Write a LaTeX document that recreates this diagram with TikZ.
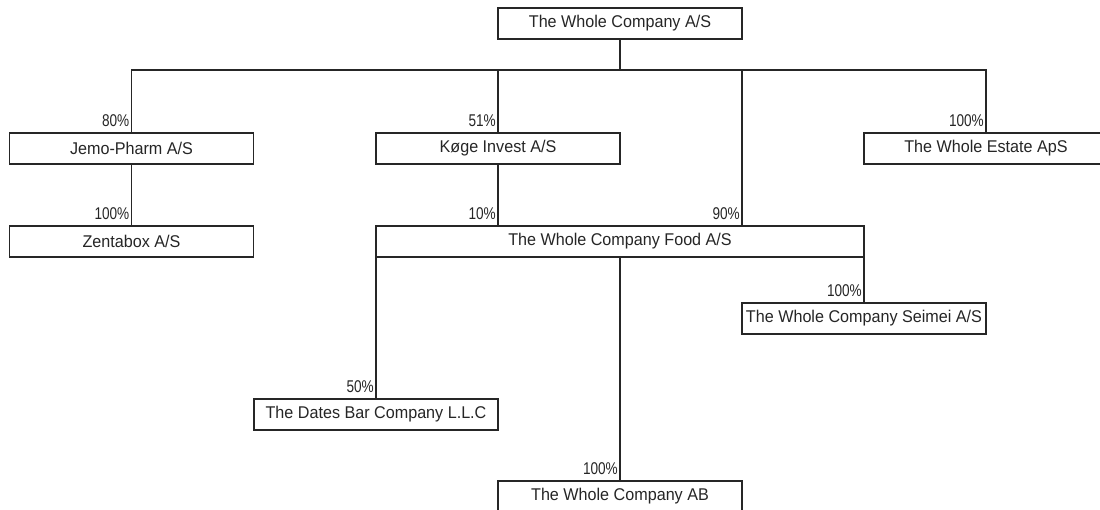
\documentclass[tikz,border=0pt]{standalone}
\usepackage{fontspec}
\setmainfont{Liberation Sans}
\newfontfamily\boxfont[FakeStretch=0.95]{Liberation Sans}
\newfontfamily\pctfont[FakeStretch=0.8]{Liberation Sans}
\usetikzlibrary{calc}
\definecolor{ink}{HTML}{262626}
\tikzset{
  company/.style={draw=ink, line width=1.4pt, anchor=north west, inner sep=0pt, outer sep=0pt,
    minimum height=31pt, text=ink, font=\boxfont\fontsize{17}{19}\selectfont},
  single/.style={company, minimum width=244pt},
  double/.style={company, minimum width=488pt},
  pct/.style={anchor=base east, inner sep=0pt, text=ink, font=\pctfont\fontsize{17}{19}\selectfont},
  link/.style={draw=ink, line width=1.1pt}
}
\begin{document}
\begin{tikzpicture}[x=1pt,y=1pt]
\useasboundingbox (0,0) rectangle (1100,-509);
\fill[white] (0,0) rectangle (1100,-509);
\clip (0,0) rectangle (1100,-509);
% boxes
\node[single] (top)    at (498,-8)   {The Whole Company A/S};
\node[single] (jemo)   at (9.5,-133) {Jemo-Pharm A/S};
\node[single] (koge)   at (376,-133) {Køge Invest A/S};
\node[single] (estate) at (864,-133) {The Whole Estate ApS};
\node[single] (zenta)  at (9.5,-226) {Zentabox A/S};
\node[double] (food)   at (376,-226) {The Whole Company Food A/S};
\node[single] (seimei) at (742,-303) {The Whole Company Seimei A/S};
\node[single] (dates)  at (254,-399) {The Dates Bar Company L.L.C};
\node[single] (ab)     at (498,-481) {The Whole Company AB};
% bus
\coordinate (bus) at (0,-70);
\coordinate (food90) at ($(food.north west)!0.75!(food.north east)$);
\draw[link] (top.south) -- (top.south |- bus);
\draw[link] (jemo.north) -- (jemo.north |- bus) -- (estate.north |- bus) -- (estate.north);
\draw[link] (koge.north) -- (koge.north |- bus);
\draw[link] (food90) -- (food90 |- bus);
\draw[link] (jemo.south) -- (zenta.north);
\draw[link] (koge.south) -- (koge.south |- food.north);
\draw[link] (food.south west) -- (dates.north);
\draw[link] (food.south) -- (ab.north);
\draw[link] (food.south east) -- (seimei.north);
% percentages
\node[pct] (p1) at ([xshift=-2pt,yshift=7pt]jemo.north) {80\%};
\node[pct] (p2) at ([xshift=-2pt,yshift=7pt]koge.north) {51\%};
\node[pct] (p3) at ([xshift=-2pt,yshift=7pt]estate.north) {100\%};
\node[pct] (p4) at ([xshift=-2pt,yshift=7pt]zenta.north) {100\%};
\node[pct] (p5) at ([xshift=-2pt,yshift=7pt]koge.south |- food.north) {10\%};
\node[pct] (p6) at ([xshift=-2pt,yshift=7pt]food90) {90\%};
\node[pct] (p7) at ([xshift=-2pt,yshift=7pt]seimei.north) {100\%};
\node[pct] (p8) at ([xshift=-2pt,yshift=7pt]dates.north) {50\%};
\node[pct] (p9) at ([xshift=-2pt,yshift=7pt]ab.north) {100\%};
\end{tikzpicture}
\end{document}
